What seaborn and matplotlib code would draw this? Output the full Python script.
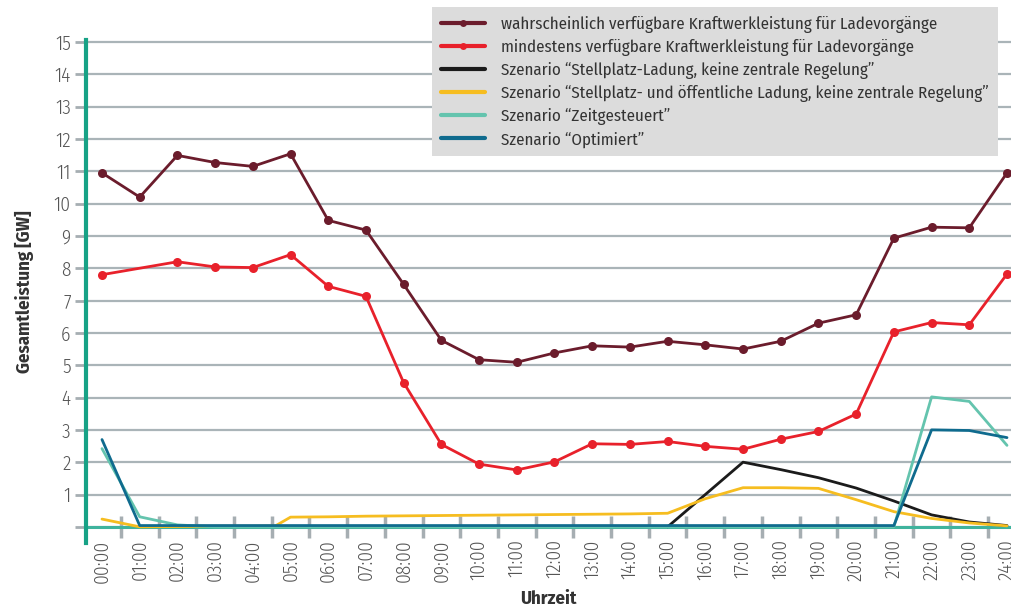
import matplotlib
matplotlib.use("Agg")
import matplotlib.pyplot as plt
from matplotlib.lines import Line2D
import seaborn as sns
import pandas as pd

# =====================================================================
# Daten
# =====================================================================
stunden = list(range(25))
stunden_labels = [f"{h:02d}:00" for h in stunden]

wahrscheinlich = [10.95, 10.2, 11.49, 11.27, 11.15, 11.54, 9.48, 9.18, 7.5, 5.77,
                  5.17, 5.09, 5.38, 5.6, 5.56, 5.74, 5.63, 5.5, 5.74, 6.3,
                  6.56, 8.93, 9.27, 9.25, 10.95]

mindestens_x = [0, 2, 3, 4, 5, 6, 7, 8, 9, 10, 11, 12, 13, 14, 15, 16, 17, 18, 19,
                20, 21, 22, 23, 24]
mindestens = [7.8, 8.2, 8.04, 8.02, 8.42, 7.44, 7.13, 4.46, 2.55, 1.94, 1.76, 2.01,
              2.57, 2.55, 2.64, 2.49, 2.4, 2.71, 2.95, 3.49, 6.03, 6.32, 6.25, 7.82]

stellplatz_x = [15, 16, 17, 18, 19, 20, 21, 22, 23, 24]
stellplatz = [0.0, 1.0, 2.0, 1.77, 1.52, 1.2, 0.8, 0.37, 0.15, 0.04]

oeffentlich_x = [0, 1, 2, 3, 4, 4.6, 5, 6, 7, 8, 9, 10, 11, 12, 13, 14, 15, 16, 17,
                 18, 19, 20, 21, 22, 23, 24]
oeffentlich = [0.24, 0.0, 0.01, 0.02, 0.02, 0.03, 0.3, 0.31, 0.33, 0.34, 0.35, 0.36,
               0.37, 0.38, 0.39, 0.4, 0.42, 0.87, 1.21, 1.21, 1.19, 0.84, 0.47, 0.26,
               0.12, 0.03]

zeitgesteuert = [2.42, 0.31, 0.06, 0, 0, 0, 0, 0, 0, 0, 0, 0, 0, 0, 0, 0, 0, 0, 0,
                 0, 0, 0, 4.02, 3.88, 2.52]

optimiert = [2.7, 0.04, 0.04, 0.04, 0.04, 0.04, 0.04, 0.04, 0.04, 0.04, 0.04, 0.04,
             0.04, 0.04, 0.04, 0.04, 0.04, 0.04, 0.04, 0.04, 0.04, 0.04, 3.0, 2.98, 2.76]

labels = [
    "wahrscheinlich verfügbare Kraftwerkleistung für Ladevorgänge",
    "mindestens verfügbare Kraftwerkleistung für Ladevorgänge",
    "Szenario \u201cStellplatz-Ladung, keine zentrale Regelung\u201d",
    "Szenario \u201cStellplatz- und öffentliche Ladung, keine zentrale Regelung\u201d",
    "Szenario \u201cZeitgesteuert\u201d",
    "Szenario \u201cOptimiert\u201d",
]
farben = ["#6b1c2c", "#e8212b", "#1b1b1b", "#f6bd20", "#64c4ae", "#0f6b8e"]

# =====================================================================
# Stil
# =====================================================================
sns.set_style("white")
plt.rcParams['font.family'] = ['Fira Sans Condensed', 'DejaVu Sans']
plt.rcParams['font.weight'] = 300

fig = plt.figure(figsize=(10.11, 6.10), dpi=100)
ax = fig.add_axes([86 / 1011, 67 / 610, 1 - 86 / 1011, 503 / 610])

serien = [
    (stunden, wahrscheinlich, True),
    (mindestens_x, mindestens, True),
    (stellplatz_x, stellplatz, False),
    (oeffentlich_x, oeffentlich, False),
    (stunden, zeitgesteuert, False),
    (stunden, optimiert, False),
]

ax.axhline(0, color="#3fb39d", lw=2.2, zorder=2)

for (xs, ys, marker), farbe in zip(serien, farben):
    df = pd.DataFrame({"x": xs, "y": ys})
    sns.lineplot(data=df, x="x", y="y", ax=ax, color=farbe, lw=2.0,
                 marker="o" if marker else None, markersize=6.5,
                 markeredgewidth=0, zorder=3)

# Achsen (Spine zuerst verschieben, da dies die Ticks zuruecksetzt)
ax.spines['bottom'].set_position(('data', 0))
ax.spines['bottom'].set_visible(False)
for s in ["top", "right"]:
    ax.spines[s].set_visible(False)
ax.spines['left'].set_color("#17a286")
ax.spines['left'].set_linewidth(3)

ax.set_xlim(-0.424, 24.106)
ax.set_ylim(-0.5, 15.06)
ax.set_xticks(stunden)
ax.set_xticklabels(stunden_labels)
ax.set_xticks([h + 0.5 for h in range(24)], minor=True)
ax.tick_params(axis="x", which="major", length=0, pad=9, labelsize=14,
               labelcolor="#555555", labelrotation=90)
ax.tick_params(axis="x", which="minor", length=16, width=2.5, color="#a6aeb2",
               direction="inout", bottom=True)

ax.set_yticks(range(16))
ax.set_yticklabels([""] + [str(i) for i in range(1, 16)])
ax.tick_params(axis="y", length=8, width=2, color="#a6aeb2", labelsize=14,
               labelcolor="#555555", left=True, pad=3)
ax.grid(axis="y", color="#aab4b8", lw=1.6)
ax.set_axisbelow(True)

ax.set_xlabel("Uhrzeit", fontsize=13.5, fontweight="bold", color="#333333")
ax.set_ylabel("Gesamtleistung [GW]", fontsize=13.5, fontweight="bold", color="#333333")
ax.xaxis.set_label_coords(0.5, -0.094)
ax.yaxis.set_label_coords(-0.056, 0.5)

# Legende
handles = []
for i, farbe in enumerate(farben):
    handles.append(Line2D([], [], color=farbe, lw=3, marker="o" if i < 2 else None,
                          markersize=5, markeredgewidth=0))
leg = fig.legend(handles, labels, loc="upper left", bbox_to_anchor=(432 / 1011, 1 - 7 / 610),
                 borderaxespad=0, frameon=True, fancybox=False,
                 prop={"family": "Fira Sans Condensed", "weight": 400, "size": 12.2},
                 handlelength=2.6, handletextpad=0.95, labelspacing=0.36,
                 borderpad=0.52)
leg.get_frame().set_facecolor("#dcdcdc")
leg.get_frame().set_edgecolor("none")
leg.get_frame().set_alpha(1)
for t in leg.get_texts():
    t.set_color("#333333")

fig.savefig("out.png", dpi=100)
